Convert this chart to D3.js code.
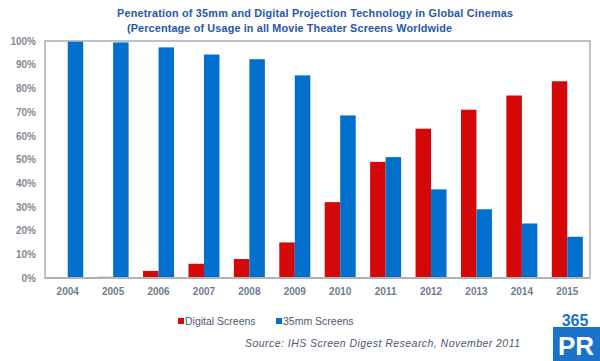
<!DOCTYPE html>
<html><head><meta charset="utf-8">
<script src="https://cdn.jsdelivr.net/npm/d3@7"></script>
<style>body{margin:0;background:#fff}svg{display:block}</style>
</head><body>
<script>
const years = ["2004","2005","2006","2007","2008","2009","2010","2011","2012","2013","2014","2015"];
const digital = [0, 0.5, 3, 6, 8, 15, 32, 49, 63, 71, 77, 83];
const film35 = [100, 99.4, 97.3, 94.3, 92.3, 85.5, 68.6, 51, 37.4, 29, 23, 17.4];
const yTicks = [0,10,20,30,40,50,60,70,80,90,100];
const seriesNames = ["Digital Screens","35mm Screens"];
const colors = ["#d40808","#0070cc"];

const W=600,H=361;
const svg=d3.select("body").append("svg").attr("width",W).attr("height",H);
const m={l:45,r:10,t:41,b:83};
const x=d3.scaleBand().domain(years).range([m.l,W-m.r]).paddingInner(0).paddingOuter(0);
const y=d3.scaleLinear().domain([0,100]).range([H-m.b,m.t]);
const bw=15.5;

// title
svg.append("text").attr("x",117).attr("y",17).attr("font-family","Liberation Sans, Arial").attr("font-weight","bold").attr("font-size",10.8).attr("fill","#2656b0").attr("textLength",396).text("Penetration of 35mm and Digital Projection Technology in Global Cinemas");
svg.append("text").attr("x",127).attr("y",32).attr("font-family","Liberation Sans, Arial").attr("font-weight","bold").attr("font-size",10.8).attr("fill","#2656b0").attr("textLength",325).text("(Percentage of Usage in all Movie Theater Screens Worldwide");

// bars
const g=svg.append("g");
g.selectAll(".d").data(years).join("rect")
 .attr("x",d=>x(d)+x.bandwidth()/2-bw).attr("width",bw)
 .attr("y",(d,i)=>y(digital[i])).attr("height",(d,i)=>y(0)-y(digital[i]))
 .attr("fill",colors[0]);
g.selectAll(".f").data(years).join("rect")
 .attr("x",d=>x(d)+x.bandwidth()/2).attr("width",bw)
 .attr("y",(d,i)=>y(film35[i])).attr("height",(d,i)=>y(0)-y(film35[i]))
 .attr("fill",colors[1]);

// frame
svg.append("rect").attr("x",m.l).attr("y",m.t).attr("width",W-m.r-m.l).attr("height",H-m.b-m.t)
 .attr("fill","none").attr("stroke","#aeb3b3").attr("stroke-width",1.6);
svg.append("line").attr("x1",m.l).attr("x2",W-m.r).attr("y1",y(0)).attr("y2",y(0)).attr("stroke","#aeb3b3").attr("stroke-width",2.2);

// y axis labels
const ya=svg.append("g").attr("transform",`translate(${m.l},0)`)
 .call(d3.axisLeft(y).tickValues(yTicks).tickFormat(d=>d+"%").tickSize(0).tickPadding(9));
ya.select(".domain").remove();
ya.selectAll("text").attr("font-family","Liberation Sans, Arial").attr("font-weight","bold").attr("font-size",10).attr("fill","#7f8a96");

const xa=svg.append("g").attr("transform",`translate(0,${y(0)})`)
 .call(d3.axisBottom(x).tickSize(0).tickPadding(10));
xa.select(".domain").remove();
xa.selectAll("text").attr("font-family","Liberation Sans, Arial").attr("font-weight","bold").attr("font-size",10).attr("fill","#6f7c8e");

// legend
const lg=svg.append("g");
const lx=[178,276];
seriesNames.forEach((n,i)=>{
 lg.append("rect").attr("x",lx[i]).attr("y",318).attr("width",6).attr("height",6).attr("fill",colors[i]);
 lg.append("text").attr("x",lx[i]+7).attr("y",325).attr("font-family","Liberation Sans, Arial").attr("font-size",10.5).attr("fill","#4d5a70").text(n);
});

svg.append("text").attr("x",245).attr("y",347).attr("font-family","Liberation Sans, Arial").attr("font-style","italic").attr("font-size",10.5).attr("fill","#4d5a70").attr("textLength",275).text("Source: IHS Screen Digest Research, November 2011");

// logo
svg.append("text").attr("x",575).attr("y",326).attr("text-anchor","middle").attr("font-family","Liberation Sans, Arial").attr("font-weight","bold").attr("font-size",16).attr("fill","#1a73c8").text("365");
svg.append("rect").attr("x",553).attr("y",327).attr("width",47).attr("height",34).attr("fill","#1a73c8");
svg.append("text").attr("x",576).attr("y",355).attr("text-anchor","middle").attr("font-family","Liberation Sans, Arial").attr("font-weight","bold").attr("font-size",26).attr("fill","#fff").text("PR");
</script>
</body></html>
